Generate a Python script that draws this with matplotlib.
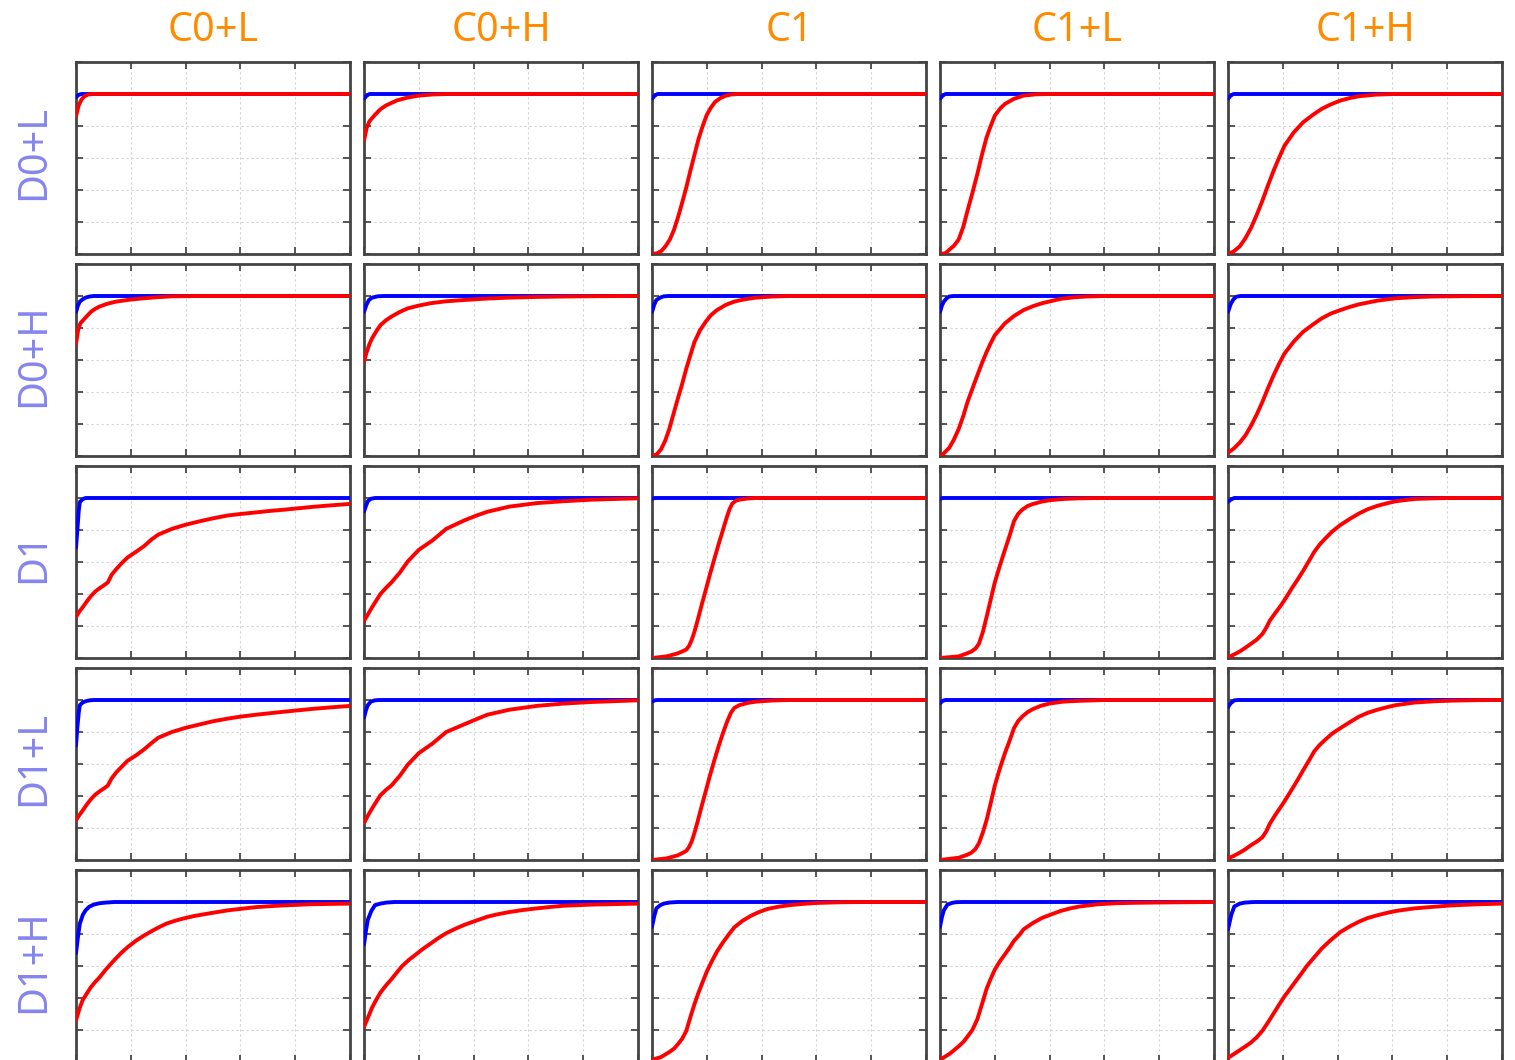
import matplotlib
matplotlib.use('Agg')
import matplotlib.pyplot as plt
from matplotlib.ticker import MultipleLocator

col_names = ['C0+L', 'C0+H', 'C1', 'C1+L', 'C1+H']
row_names = ['D0+L', 'D0+H', 'D1', 'D1+L', 'D1+H']

# each curve is a list of (x, y) points, x and y as fractions
blue_d0l = [
    [(0, 0.98), (0.01, 0.995), (0.02, 1.0), (1, 1.0)],
    [(0, 0.97), (0.01, 0.99), (0.02, 1.0), (1, 1.0)],
    [(0, 0.97), (0.01, 0.99), (0.02, 1.0), (1, 1.0)],
    [(0, 0.97), (0.01, 0.99), (0.02, 1.0), (1, 1.0)],
    [(0, 0.97), (0.01, 0.99), (0.02, 1.0), (1, 1.0)],
]
red_d0l = [
    [(0, 0.86), (0.01, 0.93), (0.02, 0.965), (0.03, 0.985), (0.045, 0.997), (0.06, 1.0), (1, 1.0)],
    [(0, 0.71), (0.01, 0.79), (0.02, 0.83), (0.04, 0.87), (0.06, 0.905), (0.08, 0.928), (0.12, 0.96),
     (0.16, 0.978), (0.2, 0.99), (0.25, 0.997), (0.3, 1.0), (1, 1.0)],
    [(0, 0.0), (0.02, 0.005), (0.035, 0.02), (0.05, 0.05), (0.065, 0.09), (0.08, 0.15), (0.095, 0.23),
     (0.11, 0.32), (0.125, 0.415), (0.14, 0.52), (0.155, 0.62), (0.17, 0.72), (0.185, 0.80), (0.2, 0.87),
     (0.215, 0.915), (0.23, 0.95), (0.25, 0.975), (0.27, 0.99), (0.29, 0.997), (0.31, 1.0), (1, 1.0)],
    [(0, 0.0), (0.02, 0.005), (0.034, 0.027), (0.05, 0.05), (0.068, 0.09), (0.085, 0.17), (0.10, 0.268),
     (0.118, 0.38), (0.136, 0.498), (0.153, 0.62), (0.17, 0.729), (0.185, 0.80), (0.2, 0.865), (0.22, 0.91),
     (0.237, 0.938), (0.27, 0.97), (0.305, 0.99), (0.35, 0.998), (0.40, 1.0), (1, 1.0)],
    [(0, 0.0), (0.02, 0.015), (0.043, 0.048), (0.064, 0.10), (0.084, 0.163), (0.105, 0.245), (0.125, 0.331),
     (0.145, 0.425), (0.166, 0.519), (0.186, 0.60), (0.206, 0.676), (0.24, 0.76), (0.274, 0.823), (0.31, 0.87),
     (0.342, 0.907), (0.375, 0.935), (0.41, 0.959), (0.445, 0.975), (0.478, 0.986), (0.54, 0.996), (0.6, 1.0),
     (1, 1.0)],
]

blue_d0h = [
    [(0, 0.90), (0.007, 0.94), (0.014, 0.965), (0.025, 0.98), (0.035, 0.99), (0.05, 0.997), (0.065, 1.0), (1, 1.0)],
    [(0, 0.90), (0.009, 0.945), (0.018, 0.975), (0.03, 0.99), (0.05, 0.998), (0.07, 1.0), (1, 1.0)],
    [(0, 0.90), (0.008, 0.945), (0.016, 0.975), (0.03, 0.99), (0.043, 0.998), (0.06, 1.0), (1, 1.0)],
    [(0, 0.90), (0.007, 0.94), (0.014, 0.965), (0.025, 0.987), (0.034, 0.997), (0.05, 1.0), (1, 1.0)],
    [(0, 0.90), (0.01, 0.95), (0.02, 0.98), (0.03, 0.995), (0.045, 1.0), (1, 1.0)],
]
red_d0h = [
    [(0, 0.70), (0.008, 0.79), (0.016, 0.83), (0.024, 0.845), (0.04, 0.875), (0.055, 0.902), (0.07, 0.92),
     (0.086, 0.934), (0.115, 0.952), (0.147, 0.965), (0.2, 0.978), (0.25, 0.986), (0.3, 0.993), (0.35, 0.998),
     (0.45, 1.0), (1, 1.0)],
    [(0, 0.59), (0.01, 0.65), (0.02, 0.70), (0.029, 0.734), (0.045, 0.78), (0.06, 0.818), (0.08, 0.848),
     (0.1, 0.871), (0.13, 0.9), (0.16, 0.923), (0.2, 0.94), (0.243, 0.955), (0.3, 0.967), (0.366, 0.975),
     (0.45, 0.984), (0.53, 0.99), (0.63, 0.994), (0.73, 0.997), (0.85, 0.999), (1, 1.0)],
    [(0, 0.0), (0.017, 0.01), (0.033, 0.042), (0.048, 0.095), (0.063, 0.168), (0.078, 0.26), (0.094, 0.357),
     (0.11, 0.45), (0.125, 0.545), (0.14, 0.63), (0.155, 0.713), (0.175, 0.785), (0.196, 0.839), (0.215, 0.88),
     (0.237, 0.912), (0.27, 0.945), (0.3, 0.965), (0.34, 0.98), (0.38, 0.99), (0.44, 0.997), (0.5, 1.0), (1, 1.0)],
    [(0, 0.0), (0.01, 0.01), (0.034, 0.052), (0.05, 0.1), (0.068, 0.168), (0.085, 0.25), (0.10, 0.336),
     (0.118, 0.42), (0.136, 0.503), (0.153, 0.58), (0.17, 0.65), (0.185, 0.705), (0.2, 0.755), (0.237, 0.829),
     (0.27, 0.875), (0.305, 0.912), (0.34, 0.937), (0.373, 0.955), (0.41, 0.97), (0.44, 0.982), (0.49, 0.992),
     (0.536, 0.997), (0.6, 1.0), (1, 1.0)],
    [(0, 0.02), (0.02, 0.045), (0.043, 0.084), (0.064, 0.13), (0.084, 0.189), (0.105, 0.26), (0.125, 0.336),
     (0.145, 0.42), (0.166, 0.503), (0.186, 0.575), (0.206, 0.64), (0.24, 0.715), (0.274, 0.776), (0.31, 0.822),
     (0.342, 0.86), (0.375, 0.89), (0.41, 0.912), (0.445, 0.932), (0.478, 0.948), (0.545, 0.971), (0.613, 0.986),
     (0.68, 0.993), (0.75, 0.997), (0.85, 0.999), (1, 1.0)],
]

blue_d1 = [
    [(0, 0.69), (0.005, 0.80), (0.01, 0.92), (0.014, 0.975), (0.025, 0.993), (0.035, 1.0), (1, 1.0)],
    [(0, 0.915), (0.007, 0.95), (0.014, 0.98), (0.025, 0.995), (0.04, 1.0), (1, 1.0)],
    [(0, 0.995), (0.01, 1.0), (1, 1.0)],
    [(0, 0.995), (0.01, 1.0), (1, 1.0)],
    [(0, 0.975), (0.01, 0.99), (0.023, 1.0), (1, 1.0)],
]
red_d1 = [
    [(0, 0.256), (0.012, 0.29), (0.024, 0.316), (0.04, 0.355), (0.055, 0.388), (0.07, 0.415), (0.086, 0.436),
     (0.1, 0.452), (0.116, 0.472), (0.13, 0.52), (0.147, 0.556), (0.168, 0.595), (0.188, 0.628), (0.22, 0.665),
     (0.249, 0.70), (0.275, 0.74), (0.3, 0.771), (0.35, 0.807), (0.4, 0.833), (0.453, 0.855), (0.5, 0.873),
     (0.555, 0.891), (0.6, 0.9), (0.657, 0.91), (0.7, 0.918), (0.76, 0.927), (0.86, 0.944), (0.93, 0.954),
     (1, 0.963)],
    [(0, 0.232), (0.015, 0.275), (0.029, 0.316), (0.045, 0.36), (0.06, 0.40), (0.08, 0.438), (0.1, 0.472),
     (0.13, 0.532), (0.16, 0.604), (0.18, 0.64), (0.2, 0.676), (0.25, 0.735), (0.3, 0.807), (0.366, 0.86),
     (0.41, 0.89), (0.45, 0.914), (0.53, 0.946), (0.63, 0.968), (0.73, 0.98), (0.836, 0.99), (1, 0.998)],
    [(0, 0.0), (0.053, 0.01), (0.094, 0.029), (0.115, 0.045), (0.125, 0.053), (0.135, 0.075), (0.145, 0.113),
     (0.155, 0.165), (0.166, 0.232), (0.181, 0.33), (0.196, 0.424), (0.211, 0.52), (0.227, 0.616), (0.242, 0.705),
     (0.258, 0.795), (0.273, 0.88), (0.283, 0.93), (0.293, 0.965), (0.305, 0.982), (0.319, 0.99), (0.35, 0.997),
     (0.38, 1.0), (1, 1.0)],
    [(0, 0.0), (0.068, 0.01), (0.1, 0.03), (0.115, 0.041), (0.13, 0.06), (0.142, 0.089), (0.156, 0.16),
     (0.17, 0.256), (0.185, 0.365), (0.2, 0.472), (0.218, 0.575), (0.237, 0.676), (0.255, 0.77), (0.27, 0.855),
     (0.285, 0.9), (0.3, 0.927), (0.32, 0.95), (0.34, 0.963), (0.37, 0.977), (0.4, 0.986), (0.45, 0.994),
     (0.51, 0.998), (0.6, 1.0), (1, 1.0)],
    [(0, 0.005), (0.02, 0.02), (0.043, 0.041), (0.064, 0.065), (0.084, 0.089), (0.105, 0.115), (0.125, 0.149),
     (0.14, 0.19), (0.152, 0.232), (0.172, 0.28), (0.193, 0.328), (0.213, 0.38), (0.233, 0.436), (0.254, 0.49),
     (0.274, 0.544), (0.295, 0.605), (0.315, 0.664), (0.335, 0.71), (0.355, 0.747), (0.38, 0.79), (0.41, 0.831),
     (0.445, 0.87), (0.478, 0.903), (0.51, 0.93), (0.545, 0.951), (0.58, 0.967), (0.613, 0.98), (0.68, 0.994),
     (0.75, 0.998), (0.817, 1.0), (1, 1.0)],
]

blue_d1l = [
    [(0, 0.716), (0.005, 0.83), (0.01, 0.92), (0.014, 0.968), (0.025, 0.985), (0.035, 0.992), (0.05, 0.998),
     (0.065, 1.0), (1, 1.0)],
    [(0, 0.89), (0.007, 0.935), (0.014, 0.968), (0.025, 0.99), (0.04, 0.998), (0.055, 1.0), (1, 1.0)],
    [(0, 0.99), (0.01, 0.998), (0.02, 1.0), (1, 1.0)],
    [(0, 0.98), (0.01, 0.995), (0.02, 1.0), (1, 1.0)],
    [(0, 0.956), (0.01, 0.98), (0.023, 0.998), (0.035, 1.0), (1, 1.0)],
]
red_d1l = [
    [(0, 0.249), (0.012, 0.28), (0.024, 0.309), (0.04, 0.348), (0.055, 0.381), (0.07, 0.408), (0.086, 0.429),
     (0.1, 0.445), (0.116, 0.465), (0.13, 0.51), (0.147, 0.548), (0.168, 0.585), (0.188, 0.62), (0.22, 0.655),
     (0.249, 0.692), (0.275, 0.73), (0.3, 0.764), (0.35, 0.80), (0.4, 0.826), (0.453, 0.848), (0.5, 0.867),
     (0.555, 0.884), (0.6, 0.896), (0.657, 0.908), (0.7, 0.916), (0.76, 0.927), (0.86, 0.944), (0.93, 0.954),
     (1, 0.963)],
    [(0, 0.23), (0.015, 0.28), (0.029, 0.321), (0.045, 0.365), (0.06, 0.405), (0.08, 0.438), (0.1, 0.465),
     (0.13, 0.525), (0.16, 0.596), (0.18, 0.632), (0.2, 0.668), (0.25, 0.728), (0.3, 0.80), (0.366, 0.848),
     (0.41, 0.88), (0.45, 0.908), (0.53, 0.939), (0.63, 0.963), (0.73, 0.978), (0.836, 0.988), (1, 0.998)],
    [(0, 0.0), (0.053, 0.01), (0.094, 0.029), (0.115, 0.047), (0.125, 0.057), (0.135, 0.08), (0.145, 0.117),
     (0.155, 0.17), (0.166, 0.237), (0.181, 0.335), (0.196, 0.429), (0.211, 0.525), (0.227, 0.62), (0.242, 0.705),
     (0.258, 0.788), (0.273, 0.86), (0.288, 0.92), (0.3, 0.95), (0.319, 0.968), (0.35, 0.982), (0.38, 0.99),
     (0.44, 0.997), (0.5, 1.0), (1, 1.0)],
    [(0, 0.0), (0.068, 0.014), (0.1, 0.033), (0.115, 0.046), (0.13, 0.07), (0.142, 0.105), (0.156, 0.17),
     (0.17, 0.249), (0.185, 0.355), (0.2, 0.465), (0.218, 0.57), (0.237, 0.668), (0.255, 0.75), (0.27, 0.824),
     (0.285, 0.868), (0.3, 0.896), (0.32, 0.925), (0.34, 0.944), (0.37, 0.965), (0.4, 0.978), (0.45, 0.99),
     (0.51, 0.995), (0.6, 1.0), (1, 1.0)],
    [(0, 0.01), (0.02, 0.025), (0.043, 0.046), (0.064, 0.068), (0.084, 0.093), (0.105, 0.115), (0.125, 0.141),
     (0.14, 0.18), (0.152, 0.225), (0.172, 0.28), (0.193, 0.333), (0.213, 0.385), (0.233, 0.441), (0.254, 0.50),
     (0.274, 0.56), (0.295, 0.62), (0.315, 0.68), (0.335, 0.72), (0.355, 0.752), (0.38, 0.79), (0.41, 0.824),
     (0.445, 0.862), (0.478, 0.896), (0.51, 0.92), (0.545, 0.939), (0.58, 0.955), (0.613, 0.968), (0.68, 0.984),
     (0.75, 0.992), (0.817, 0.996), (0.9, 0.999), (1, 1.0)],
]

blue_d1h = [
    [(0, 0.68), (0.007, 0.78), (0.014, 0.865), (0.025, 0.92), (0.035, 0.948), (0.048, 0.97), (0.065, 0.984),
     (0.085, 0.992), (0.106, 0.996), (0.14, 1.0), (1, 1.0)],
    [(0, 0.733), (0.007, 0.82), (0.014, 0.889), (0.027, 0.945), (0.04, 0.98), (0.06, 0.99), (0.08, 0.996),
     (0.11, 1.0), (1, 1.0)],
    [(0, 0.845), (0.008, 0.91), (0.016, 0.96), (0.03, 0.98), (0.043, 0.99), (0.065, 0.997), (0.094, 1.0), (1, 1.0)],
    [(0, 0.845), (0.007, 0.905), (0.014, 0.948), (0.027, 0.984), (0.045, 0.995), (0.06, 0.999), (0.08, 1.0), (1, 1.0)],
    [(0, 0.829), (0.012, 0.92), (0.023, 0.972), (0.043, 0.99), (0.06, 0.996), (0.084, 0.999), (0.1, 1.0), (1, 1.0)],
]
red_d1h = [
    [(0, 0.26), (0.012, 0.33), (0.024, 0.386), (0.04, 0.43), (0.055, 0.469), (0.07, 0.5), (0.086, 0.529),
     (0.105, 0.57), (0.127, 0.613), (0.147, 0.65), (0.167, 0.685), (0.19, 0.72), (0.218, 0.757), (0.245, 0.787),
     (0.27, 0.812), (0.3, 0.84), (0.33, 0.865), (0.36, 0.882), (0.39, 0.896), (0.43, 0.912), (0.473, 0.925),
     (0.515, 0.937), (0.555, 0.948), (0.6, 0.957), (0.657, 0.968), (0.71, 0.974), (0.76, 0.979), (0.86, 0.986),
     (1, 0.99)],
    [(0, 0.218), (0.015, 0.28), (0.029, 0.338), (0.045, 0.39), (0.06, 0.434), (0.08, 0.478), (0.1, 0.517),
     (0.12, 0.56), (0.14, 0.601), (0.165, 0.64), (0.19, 0.673), (0.215, 0.707), (0.243, 0.74), (0.27, 0.773),
     (0.3, 0.805), (0.33, 0.83), (0.366, 0.857), (0.41, 0.884), (0.45, 0.908), (0.49, 0.924), (0.53, 0.937),
     (0.58, 0.95), (0.63, 0.96), (0.68, 0.969), (0.73, 0.977), (0.836, 0.984), (1, 0.99)],
    [(0, 0.014), (0.033, 0.031), (0.063, 0.062), (0.08, 0.083), (0.094, 0.11), (0.11, 0.145), (0.125, 0.194),
     (0.14, 0.28), (0.155, 0.362), (0.17, 0.435), (0.186, 0.505), (0.2, 0.565), (0.217, 0.625), (0.237, 0.69),
     (0.258, 0.745), (0.28, 0.797), (0.3, 0.841), (0.33, 0.882), (0.36, 0.913), (0.39, 0.937), (0.42, 0.956),
     (0.46, 0.97), (0.5, 0.98), (0.55, 0.988), (0.6, 0.994), (0.7, 0.999), (0.8, 1.0), (1, 1.0)],
    [(0, 0.014), (0.034, 0.05), (0.05, 0.072), (0.068, 0.098), (0.085, 0.125), (0.1, 0.158), (0.118, 0.2),
     (0.136, 0.266), (0.153, 0.36), (0.17, 0.457), (0.185, 0.52), (0.2, 0.577), (0.218, 0.628), (0.237, 0.673),
     (0.255, 0.717), (0.27, 0.757), (0.29, 0.795), (0.305, 0.829), (0.34, 0.87), (0.373, 0.901), (0.41, 0.925),
     (0.44, 0.944), (0.475, 0.96), (0.51, 0.972), (0.577, 0.986), (0.64, 0.992), (0.71, 0.995), (0.85, 0.998),
     (1, 1.0)],
    [(0, 0.026), (0.02, 0.048), (0.043, 0.074), (0.064, 0.098), (0.084, 0.122), (0.105, 0.155), (0.125, 0.194),
     (0.145, 0.245), (0.166, 0.302), (0.186, 0.357), (0.206, 0.41), (0.227, 0.458), (0.247, 0.505), (0.268, 0.553),
     (0.288, 0.601), (0.315, 0.655), (0.342, 0.709), (0.375, 0.762), (0.41, 0.812), (0.445, 0.848), (0.478, 0.877),
     (0.51, 0.9), (0.545, 0.917), (0.58, 0.932), (0.613, 0.944), (0.65, 0.953), (0.68, 0.96), (0.75, 0.97),
     (0.817, 0.979), (0.9, 0.985), (1, 0.99)],
]

blue_rows = [blue_d0l, blue_d0h, blue_d1, blue_d1l, blue_d1h]
red_rows = [red_d0l, red_d0h, red_d1, red_d1l, red_d1h]

W, H = 1515, 1060
fig = plt.figure(figsize=(W / 100, H / 100), dpi=100)
fig.patch.set_facecolor('white')

frame_color = '#444444'
for r in range(5):
    for c in range(5):
        left = 76 + 288 * c
        top = 62 + 202 * r
        ax = fig.add_axes([left / W, 1 - (top + 192) / H, 274 / W, 192 / H])
        ax.set_xlim(0, 1)
        ax.set_ylim(0, 1.2)
        ax.xaxis.set_major_locator(MultipleLocator(0.2))
        ax.yaxis.set_major_locator(MultipleLocator(0.2))
        ax.tick_params(direction='in', length=5, width=1.4, color='#555555',
                       top=True, right=True, labelbottom=False, labelleft=False)
        ax.grid(color='#d2d2d2', linestyle=(0, (2, 2.5)), linewidth=0.8)
        for spine in ax.spines.values():
            spine.set_color(frame_color)
            spine.set_linewidth(2.0)

        bx = [p[0] for p in blue_rows[r][c]]
        by = [p[1] for p in blue_rows[r][c]]
        rx = [p[0] for p in red_rows[r][c]]
        ry = [p[1] for p in red_rows[r][c]]
        ax.plot(bx, by, color='#0000ff', linewidth=2.8, solid_capstyle='round',
                solid_joinstyle='round', zorder=3)
        ax.plot(rx, ry, color='#ff0000', linewidth=2.8, solid_capstyle='round',
                solid_joinstyle='round', zorder=4)

for c, name in enumerate(col_names):
    cx = (76 + 288 * c + 137) / W
    fig.text(cx, 1 - 31 / H, name, ha='center', va='center', fontsize=28.5,
             color='#ff8c00', family='Noto Sans')

for r, name in enumerate(row_names):
    cy = 1 - (62 + 202 * r + 91) / H
    fig.text(34 / W, cy, name, ha='center', va='center', rotation=90, fontsize=28.5,
             color='#8585ee', family='Noto Sans')

plt.savefig('out.png', dpi=100)
